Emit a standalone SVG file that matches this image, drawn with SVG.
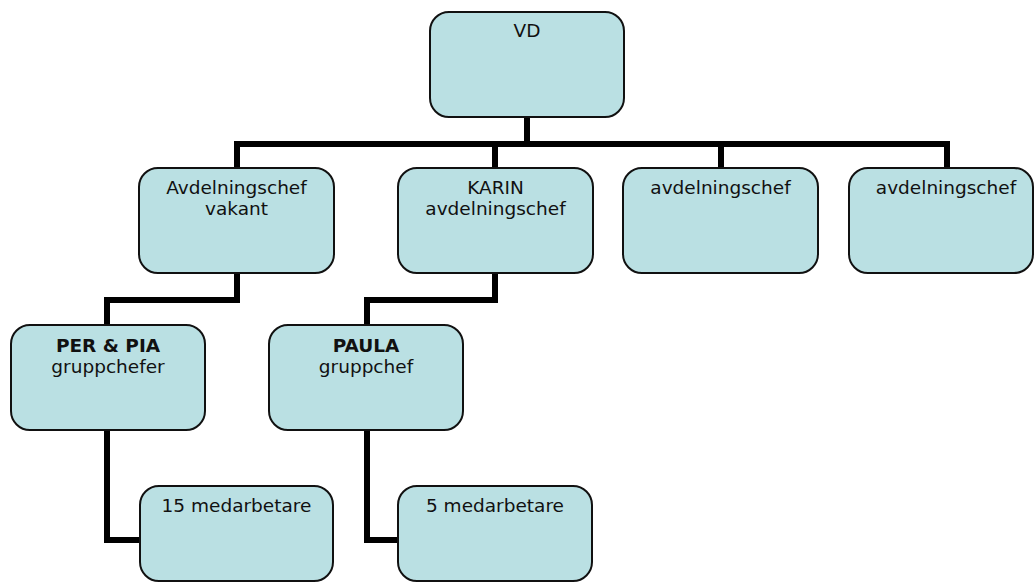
<svg xmlns="http://www.w3.org/2000/svg" width="1034" height="582" viewBox="0 0 1034 582">
<style>
.box{fill:#bae0e3;stroke:#111;stroke-width:2}
.t{font-family:"DejaVu Sans",Verdana,sans-serif;font-size:18.5px;fill:#111;text-anchor:middle}
.b{font-weight:bold}
.c{fill:none;stroke:#000;stroke-width:6;stroke-linejoin:miter;stroke-linecap:butt}
</style>
<rect width="1034" height="582" fill="#fff"/>
<g id="connectors">
<path class="c" d="M527 117 V144"/>
<path class="c" d="M237 168 V144 H947 V168"/>
<path class="c" d="M495 144 V168"/>
<path class="c" d="M721 144 V168"/>
<path class="c" d="M237 273 V300 H107 V325"/>
<path class="c" d="M495 273 V300 H367 V325"/>
<path class="c" d="M107 430 V540 H140"/>
<path class="c" d="M367 430 V540 H398"/>
</g>
<g id="vd">
<rect class="box" x="430" y="12" width="194" height="105" rx="19"/>
<text class="t" x="527" y="37">VD</text>
</g>
<g id="avd-vakant">
<rect class="box" x="139" y="168" width="195" height="105" rx="19"/>
<text class="t" x="236.5" y="194">Avdelningschef</text>
<text class="t" x="236.5" y="215">vakant</text>
</g>
<g id="karin">
<rect class="box" x="398" y="168" width="195" height="105" rx="19"/>
<text class="t" x="495.5" y="194">KARIN</text>
<text class="t" x="495.5" y="215">avdelningschef</text>
</g>
<g id="avd3">
<rect class="box" x="623" y="168" width="195" height="105" rx="19"/>
<text class="t" x="720.5" y="194">avdelningschef</text>
</g>
<g id="avd4">
<rect class="box" x="849" y="168" width="184" height="105" rx="19"/>
<text class="t" x="946" y="194">avdelningschef</text>
</g>
<g id="per-pia">
<rect class="box" x="11" y="325" width="194" height="105" rx="19"/>
<text class="t b" x="108" y="352">PER &amp; PIA</text>
<text class="t" x="108" y="373">gruppchefer</text>
</g>
<g id="paula">
<rect class="box" x="269" y="325" width="194" height="105" rx="19"/>
<text class="t b" x="366" y="352">PAULA</text>
<text class="t" x="366" y="373">gruppchef</text>
</g>
<g id="med15">
<rect class="box" x="140" y="486" width="193" height="95" rx="19"/>
<text class="t" x="236.5" y="512">15 medarbetare</text>
</g>
<g id="med5">
<rect class="box" x="398" y="486" width="194" height="95" rx="19"/>
<text class="t" x="495" y="512">5 medarbetare</text>
</g>
</svg>
